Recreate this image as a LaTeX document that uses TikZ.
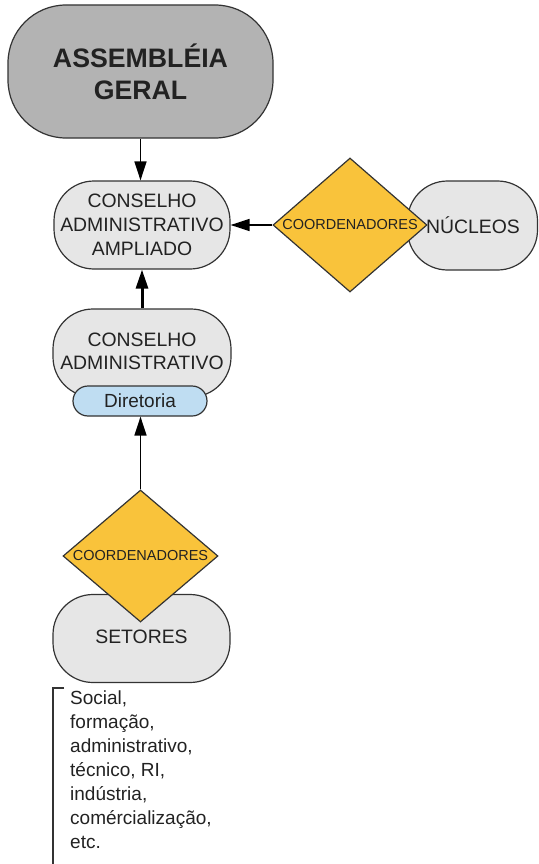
\documentclass[tikz,border=0pt]{standalone}
\usepackage{fontspec}
\setmainfont{Liberation Sans}
\usetikzlibrary{shapes.geometric,arrows.meta}
\definecolor{agfill}{HTML}{B3B3B3}
\definecolor{boxfill}{HTML}{E6E6E6}
\definecolor{dirfill}{HTML}{BFDDF2}
\definecolor{coordfill}{HTML}{F9C33B}
\definecolor{edge}{HTML}{333333}
\definecolor{txt}{HTML}{222222}
\tikzset{
  pill/.style={draw=edge, line width=1.2pt, fill=boxfill, rectangle, rounded corners=40pt,
    inner sep=0pt, align=center, text=txt, font=\fontsize{19.4}{24}\selectfont},
  coord/.style={draw=edge, line width=1.2pt, fill=coordfill, diamond, inner sep=0pt,
    label={[text=txt, font=\fontsize{14.5}{17}\selectfont]center:COORDENADORES}},
  conn/.style={draw=black, line width=1.5pt, -{Triangle[length=19pt,width=12pt]}},
}
\begin{document}
\begin{tikzpicture}[x=1pt,y=-1pt]
\useasboundingbox (0,0) rectangle (538,864);
% Assembleia geral
\node[pill, fill=agfill, rounded corners=58pt, minimum width=265pt, minimum height=133pt,
  font=\fontsize{26.7}{32}\bfseries] (ag) at (140.5,71.5) {ASSEMBLÉIA\\GERAL};
% Conselho administrativo ampliado
\node[pill, minimum width=176pt, minimum height=88pt] (cap) at (142,225)
  {CONSELHO\\ADMINISTRATIVO\\AMPLIADO};
% Nucleos
\node[pill, minimum width=130pt, minimum height=89pt] (nuc) at (472.5,225.5) {\hspace*{1pt}NÚCLEOS};
\node[coord, minimum width=154pt, minimum height=134pt] (d1) at (350,225) {};
% Conselho administrativo
\node[pill, minimum width=178pt, minimum height=88pt] (ca) at (142,353)
  {\raisebox{15pt}{\begin{tabular}{@{}c@{}}CONSELHO\\[-0.5pt]ADMINISTRATIVO\end{tabular}}};
\node[pill, fill=dirfill, rounded corners=15pt, minimum width=134pt, minimum height=30pt,
  font=\fontsize{19}{22}\selectfont] (dir) at (140,401) {Diretoria};
% Setores
\node[pill, minimum width=177pt, minimum height=88pt] (set) at (141.5,638.5) {};
\node[text=txt, font=\fontsize{19.4}{24}\selectfont] (setl) at (141.5,637) {SETORES};
\node[coord, minimum width=155pt, minimum height=132pt] (d2) at (140.5,556) {};
% list
\coordinate (bt) at (53,688);
\coordinate (bb) at (53,866);
\coordinate (br) at (64,688);
\draw[edge, line width=1.2pt] (br) -- (bt) -- (bb);
\node[anchor=north west, align=left, inner sep=0pt, text=txt,
  font=\fontsize{19}{24}\selectfont] (lst) at (70,691)
  {Social,\\formação,\\administrativo,\\técnico, RI,\\indústria,\\comércialização,\\etc.};
% connectors
\draw[conn] (ag.south) -- (ag.south |- cap.north);
\draw[conn] (d1.west) -- (cap.east);
\draw[conn, line width=3pt] (ca.north) -- (cap.south);
\draw[conn] (d2.north) -- (d2.north |- dir.south);
\end{tikzpicture}
\end{document}
